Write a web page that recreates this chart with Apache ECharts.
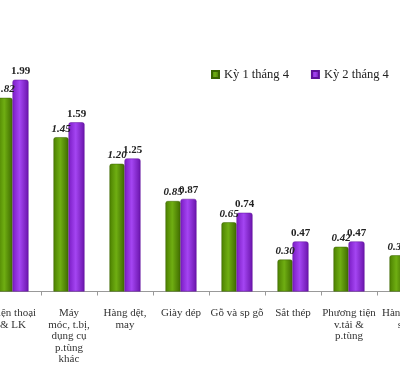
<!DOCTYPE html>
<html><head><meta charset="utf-8">
<script src="https://cdn.jsdelivr.net/npm/echarts@6/dist/echarts.min.js"></script>
<style>html,body{margin:0;padding:0;background:#fff;overflow:hidden;width:400px;height:365px}#c{position:absolute;left:-30px;top:0;width:470px;height:365px}</style>
</head><body><div id="c"></div>
<script>
const categories = ["Điện thoại\n& LK", "Máy\nmóc, t.bị,\ndụng cụ\np.tùng\nkhác", "Hàng dệt,\nmay", "Giày dép", "Gỗ và sp gỗ", "Sắt thép", "Phương tiện\nv.tải &\np.tùng", "Hàng thủy\nsản"];
const seriesNames = ["Kỳ 1 tháng 4", "Kỳ 2 tháng 4"];
const ky1 = [1.82, 1.45, 1.20, 0.85, 0.65, 0.30, 0.42, 0.34];
const ky2 = [1.99, 1.59, 1.25, 0.87, 0.74, 0.47, 0.47, 0.38];

const font = '"Liberation Serif", "DejaVu Serif", serif';
function grad(edge, mid, edge2) {
  return new echarts.graphic.LinearGradient(0, 0, 1, 0, [
    {offset: 0, color: edge}, {offset: 0.45, color: mid}, {offset: 1, color: edge2}
  ]);
}
const chart = echarts.init(document.getElementById('c'), null, {renderer: 'canvas'});
chart.setOption({
  animation: false,
  backgroundColor: '#fff',
  legend: {
    top: 63, left: 236, itemWidth: 7, itemHeight: 7, itemGap: 22, icon: 'rect',
    textStyle: {fontFamily: font, fontSize: 12.5, color: '#222'},
    data: seriesNames
  },
  grid: {left: 15, right: 7, top: 25.5, bottom: 67},
  xAxis: {
    type: 'category', data: categories,
    axisLine: {lineStyle: {color: '#999'}},
    axisTick: {show: true, length: 4, lineStyle: {color: '#999'}},
    axisLabel: {interval: 0, fontFamily: font, fontSize: 11, color: '#333', lineHeight: 11.5, margin: 16}
  },
  yAxis: {type: 'value', min: 0, max: 2.5, show: false, splitLine: {show: false}},
  series: [
    {
      name: seriesNames[0], type: 'bar', data: ky1, barWidth: 15, barGap: '0%',
      itemStyle: {color: grad('#4c8000', '#6fae12', '#3f6a00'), borderColor: '#3a6300', borderWidth: 0.5, borderRadius: [2, 2, 0, 0]},
      label: {show: true, position: 'top', distance: 3, fontFamily: font, fontSize: 11, fontWeight: 'bold', fontStyle: 'italic', color: '#222', formatter: p => p.value.toFixed(2)}
    },
    {
      name: seriesNames[1], type: 'bar', data: ky2, barWidth: 16, barGap: '0%',
      itemStyle: {color: grad('#7a1cc4', '#a445f2', '#6a14ab'), borderColor: '#5e1299', borderWidth: 0.5, borderRadius: [2, 2, 0, 0]},
      label: {show: true, position: 'top', distance: 3, fontFamily: font, fontSize: 11, fontWeight: 'bold', color: '#222', formatter: p => p.value.toFixed(2)}
    }
  ],
  color: ['#5e9a0a', '#9b35e6']
});
</script></body></html>
